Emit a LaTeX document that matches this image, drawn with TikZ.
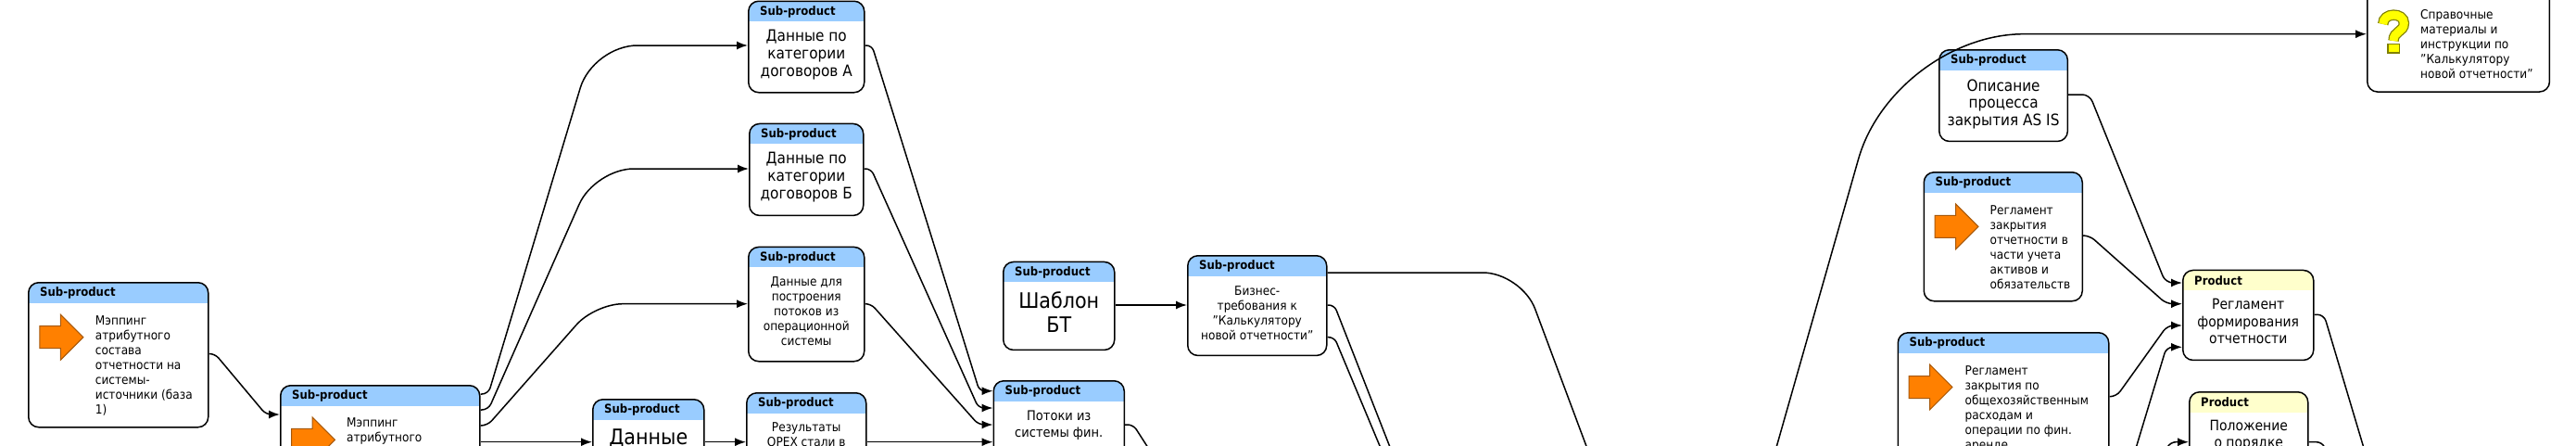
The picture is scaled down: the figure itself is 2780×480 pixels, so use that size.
\documentclass[tikz,border=0pt]{standalone}
\usepackage{fontspec}
\setmainfont{DejaVu Sans}[FakeStretch=0.9]
\usepackage{xcolor}
\usetikzlibrary{arrows.meta,calc,positioning,shapes.arrows}
\definecolor{subblue}{RGB}{153,204,255}
\definecolor{prodyellow}{RGB}{255,255,204}
\definecolor{iconorange}{RGB}{255,128,0}
\definecolor{iconbrown}{RGB}{166,88,10}
\definecolor{askyellow}{RGB}{255,255,0}
\definecolor{askolive}{RGB}{128,128,0}

\begin{document}
\begin{tikzpicture}[
  x=1pt,y=-1pt,
  box/.style={draw,line width=1.5pt,rounded corners=11pt,anchor=north west,inner sep=0pt,fill=white},
  subbox/.style={box,
    path picture={\fill[subblue,sharp corners] (path picture bounding box.north west) rectangle ([yshift=-22pt]path picture bounding box.north east);},
    label={[hdlabel]north west:Sub-product}},
  prodbox/.style={box,
    path picture={\fill[prodyellow,sharp corners] (path picture bounding box.north west) rectangle ([yshift=-22pt]path picture bounding box.north east);},
    label={[hdlabel]north west:Product}},
  hdlabel/.style={anchor=west,inner sep=0pt,xshift=13pt,yshift=-12pt,font=\fontsize{13}{15}\selectfont\bfseries},
  small/.style={inner sep=0pt,font=\fontsize{13.5}{16}\selectfont,execute at begin node=\strut},
  smallc/.style={small,align=center},
  smalll/.style={small,align=left},
  medc/.style={inner sep=0pt,align=center,font=\fontsize{15.5}{18.5}\selectfont,execute at begin node=\strut},
  widec/.style={medc,font=\fontsize{17}{19}\selectfont},
  largec/.style={inner sep=0pt,align=center,font=\fontsize{23}{26}\selectfont,execute at begin node=\strut},
  goicon/.style={single arrow,draw=iconbrown,fill=iconorange,line width=1pt,inner xsep=0pt,inner ysep=11.5pt,anchor=tail,
    minimum width=48pt,minimum height=47pt,single arrow head extend=12.5pt,single arrow tip angle=90},
  edge/.style={-{Latex[length=12pt,width=9pt]},line width=1.5pt},
  flow/.style={line width=1.5pt}
]
  \path[use as bounding box,clip] (0,0) rectangle (2780,480);

  % off-page ends
  \coordinate (offF) at (1250,500);
  \coordinate (offBizA) at (1719,500);
  \coordinate (offBizB) at (1507,500);
  \coordinate (offBizC) at (1497,500);
  \coordinate (offHelp) at (1912,500);
  \coordinate (offProdA) at (2300,500);
  \coordinate (offProdB) at (2556,500);
  \coordinate (offPosIn) at (2330,500);
  \coordinate (offPosOut) at (2517,500);

  % left part
  \node[subbox,minimum width=194pt,minimum height=156pt] (mapBase) at (30,304) {};
  \node[goicon] (mapBaseIcon) at ([xshift=12.4pt,yshift=-59.7pt]mapBase.north west) {};
  \node[smalll,below right=36pt and 72.7pt of mapBase.north west] (mapBaseText)
    {Мэппинг\\атрибутного\\состава\\отчетности на\\системы-\\источники (база\\1)};

  \node[subbox,minimum width=215pt,minimum height=110pt] (mapAttr) at (302,415) {};
  \node[goicon] (mapAttrIcon) at ([xshift=12pt,yshift=-59.4pt]mapAttr.north west) {};
  \node[smalll,below right=35pt and 72pt of mapAttr.north west] (mapAttrText) {Мэппинг\\атрибутного};

  \node[subbox,minimum width=120pt,minimum height=100pt] (data) at (639,430) {};
  \node[largec,below=30.8pt of data.north] (dataText) {Данные};

  \node[subbox,minimum width=129pt,minimum height=110pt] (opex) at (805,423) {};
  \node[smallc,below=32pt of opex.north] (opexText) {Результаты\\OPEX стали в};

  \node[subbox,minimum width=125pt,minimum height=98.5pt] (catA) at (807,0.5) {};
  \node[widec,below=31pt of catA.north] (catAText) {Данные по\\категории\\договоров А};

  \node[subbox,minimum width=123pt,minimum height=99pt] (catB) at (808,132.7) {};
  \node[widec,below=31.7pt of catB.north] (catBText) {Данные по\\категории\\договоров Б};

  \node[subbox,minimum width=125pt,minimum height=123.3pt] (catC) at (807,265.7) {};
  \node[smallc,below=32.6pt of catC.north] (catCText) {Данные для\\построения\\потоков из\\операционной\\системы};

  % middle part
  \node[subbox,minimum width=120pt,minimum height=95pt] (tmpl) at (1082,281.7) {};
  \node[largec,below=32.8pt of tmpl.north] (tmplText) {Шаблон\\БТ};

  \node[subbox,minimum width=141pt,minimum height=120pt] (flows) at (1071.5,410) {};
  \node[medc,font=\fontsize{14.5}{18}\selectfont,below=32.5pt of flows.north] (flowsText) {Потоки из\\системы фин.};

  \node[subbox,minimum width=150pt,minimum height=107.7pt] (biz) at (1281,275) {};
  \node[smallc,below=33.3pt of biz.north] (bizText) {Бизнес-\\требования к\\"Калькулятору\\новой отчетности"};

  % right part
  \node[subbox,minimum width=138.6pt,minimum height=98.7pt] (descr) at (2092,53) {};
  \node[widec,font=\fontsize{17}{18.3}\selectfont,below=32.7pt of descr.north] (descrText) {Описание\\процесса\\закрытия AS IS};

  \node[subbox,minimum width=171pt,minimum height=139pt] (regAssets) at (2075.5,185) {};
  \node[goicon] (regAssetsIcon) at ([xshift=12pt,yshift=-59.4pt]regAssets.north west) {};
  \node[smalll,below right=36pt and 72pt of regAssets.north west] (regAssetsText)
    {Регламент\\закрытия\\отчетности в\\части учета\\активов и\\обязательств};

  \node[subbox,minimum width=227.5pt,minimum height=140pt] (regCosts) at (2047.5,358) {};
  \node[goicon] (regCostsIcon) at ([xshift=12pt,yshift=-59.5pt]regCosts.north west) {};
  \node[smalll,below right=36pt and 73pt of regCosts.north west] (regCostsText)
    {Регламент\\закрытия по\\общехозяйственным\\расходам и\\операции по фин.\\аренде};

  \node[prodbox,minimum width=141pt,minimum height=97pt] (regForm) at (2355,290.7) {};
  \node[medc,below=31.7pt of regForm.north] (regFormText) {Регламент\\формирования\\отчетности};

  \node[prodbox,minimum width=128pt,minimum height=100pt] (order) at (2362,422) {};
  \node[medc,below=30.7pt of order.north] (orderText) {Положение\\о порядке};

  \node[box,minimum width=196.7pt,minimum height=123.3pt] (help) at (2554,-25) {};
  \node[smalll,below right=35pt and 58pt of help.north west] (helpText)
    {Справочные\\материалы и\\инструкции по\\"Калькулятору\\новой отчетности"};
  \draw[line width=9pt,askyellow,preaction={draw,askolive,line width=11.5pt}]
    (2571.7,26) .. controls (2571.7,13) and (2594.3,13) .. (2594.3,25) .. controls (2594.3,35) and (2583,33) .. (2583,44);
  \fill[askyellow,draw=askolive,line width=1.3pt] (2577,47.5) rectangle (2589.5,57);

  % connectors
  \draw[edge,rounded corners=6pt] ([yshift=-77.5pt]mapBase.north east) -- (232,381.5) -- (287,447) -- ([yshift=-32pt]mapAttr.north west);
  \draw[edge] ([yshift=-10pt]mapAttr.north east) [rounded corners=7pt] -- (527,425) [rounded corners=48pt] -- (640,49) -- ([yshift=-48.5pt]catA.north west);
  \draw[edge] ([yshift=-27pt]mapAttr.north east) [rounded corners=7pt] -- (527,442) [rounded corners=42pt] -- (642,182) -- ([yshift=-49.3pt]catB.north west);
  \draw[edge] ([yshift=-44pt]mapAttr.north east) [rounded corners=7pt] -- (526,459) [rounded corners=30pt] -- (642,327.7) -- ([yshift=-62pt]catC.north west);
  \draw[edge] ([yshift=-61.7pt]mapAttr.north east) -- ([yshift=-46.7pt]data.north west);
  \draw[edge] ([yshift=-46.7pt]data.north east) -- ([yshift=-53.7pt]opex.north west);
  \draw[edge] ([yshift=-53.7pt]opex.north east) -- ([yshift=-66.7pt]flows.north west);
  \draw[edge,rounded corners=6pt] ([yshift=-48.5pt]catA.north east) -- (941,49) -- (1057,421.7) -- ([yshift=-11.7pt]flows.north west);
  \draw[edge,rounded corners=6pt] ([yshift=-49.3pt]catB.north east) -- (940,182) -- (1056,440) -- ([yshift=-30pt]flows.north west);
  \draw[edge,rounded corners=6pt] ([yshift=-62pt]catC.north east) -- (940,327.7) -- (1056,458) -- ([yshift=-48pt]flows.north west);
  \draw[flow,rounded corners=6pt] ([yshift=-48pt]flows.north east) -- (1223,458) -- (offF);
  \draw[edge] ([yshift=-47.3pt]tmpl.north east) -- ([yshift=-54pt]biz.north west);
  \draw[flow,rounded corners=42pt] ([yshift=-19pt]biz.north east) -- (1642,294) -- (offBizA);
  \draw[flow,rounded corners=6pt] ([yshift=-54pt]biz.north east) -- (1440,329) -- (offBizB);
  \draw[flow,rounded corners=6pt] ([yshift=-88.7pt]biz.north east) -- (1440,363.7) -- (offBizC);
  \draw[edge,rounded corners=140pt] (offHelp) -- (2044,36.7) -- ([yshift=-61.7pt]help.north west);
  \draw[edge,rounded corners=8pt] ([yshift=-49pt]descr.north east) -- (2255,102) -- (2337,305) -- ([yshift=-14.3pt]regForm.north west);
  \draw[edge,rounded corners=7pt] ([yshift=-69pt]regAssets.north east) -- (2255,254) -- (2338,327.7) -- ([yshift=-37pt]regForm.north west);
  \draw[edge,rounded corners=7pt] ([yshift=-69.7pt]regCosts.north east) -- (2284,427.7) -- (2339,351) -- ([yshift=-60.3pt]regForm.north west);
  \draw[edge,rounded corners=7pt] (offProdA) -- (2338,374.3) -- ([yshift=-83.6pt]regForm.north west);
  \draw[flow,rounded corners=7pt] ([yshift=-48.6pt]regForm.north east) -- (2508,339.3) -- (offProdB);
  \draw[edge,rounded corners=6pt] (offPosIn) -- (2342,476.7) -- ([yshift=-54.7pt]order.north west);
  \draw[flow,rounded corners=6pt] ([yshift=-54.7pt]order.north east) -- (2506,476.7) -- (offPosOut);
\end{tikzpicture}
\end{document}
